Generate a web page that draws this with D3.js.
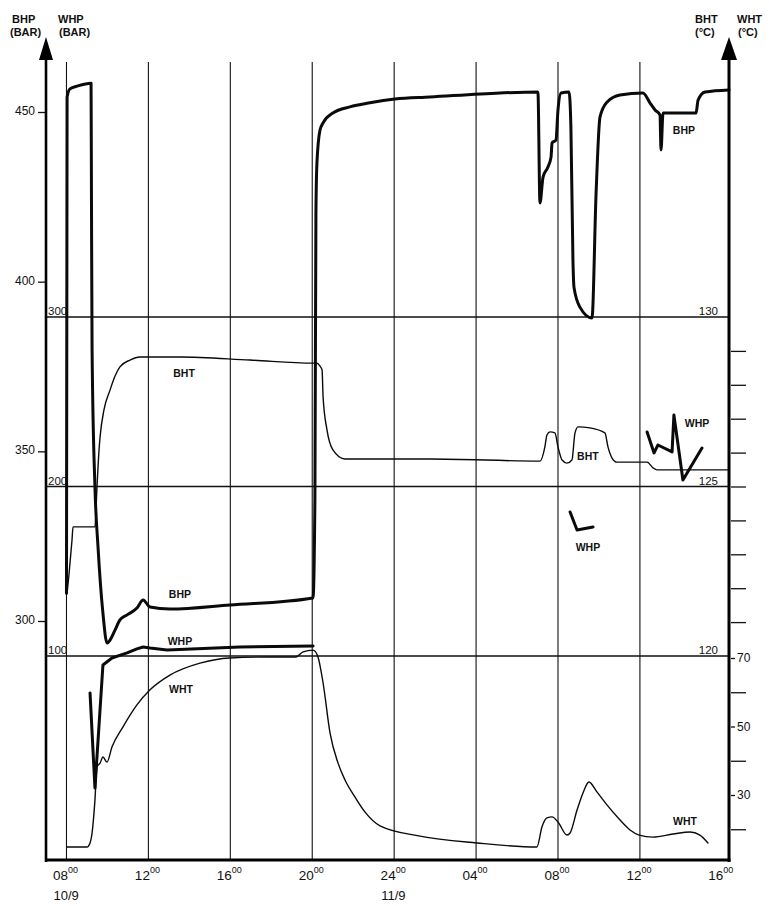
<!DOCTYPE html>
<html>
<head>
<meta charset="utf-8">
<script src="https://cdn.jsdelivr.net/npm/d3@7"></script>
<style>
body { margin: 0; background: #fff; }
svg { display: block; font-family: "Liberation Sans", Arial, sans-serif; }
.grid line { stroke: #111; stroke-width: 1.1; }
.trace { fill: none; stroke: #0a0a0a; stroke-linejoin: round; stroke-linecap: round; }
.thick { stroke-width: 3; }
.thin { stroke-width: 1.4; }
.lbl { font-weight: bold; font-size: 10.5px; fill: #111; }
.ttl { font-weight: bold; font-size: 11px; fill: #111; }
.num { font-size: 11.5px; fill: #111; }
</style>
</head>
<body>
<svg id="chart" width="769" height="906"></svg>
<script>
// time is hours from 00:00 on 10/9
var hourTicks = [8, 12, 16, 20, 24, 28, 32, 36, 40];
var hourLabels = ["08", "12", "16", "20", "24", "04", "08", "12", "16"];
var gridHours = [8, 12, 16, 20, 24, 28, 32, 36];
var dateLabels = [{t: 8, text: "10/9"}, {t: 24, text: "11/9"}];

var bhpTicks = [300, 350, 400, 450];
var whpLines = [100, 200, 300];
var bhtLines = [120, 125, 130];
var bhtTicks = [121, 122, 123, 124, 125, 126, 127, 128, 129];
var whtTicks = [20, 40, 60];
var whtLabelled = [30, 50, 70];

// bottomhole pressure, bar
var bhp = [
    [8.00, 308.2], [8.03, 454.4], [8.17, 456.8], [8.56, 457.7], [9.20, 458.5], [9.22, 424.1],
    [9.25, 379.9], [9.39, 339.5], [9.54, 321.8], [9.78, 302.3], [9.98, 293.5], [10.13, 294.4],
    [10.37, 297.3], [10.61, 300.3], [10.96, 301.8], [11.44, 303.8], [11.74, 306.2], [12.08, 304.1],
    [13.05, 303.5], [15.98, 304.7], [20.04, 306.8], [20.13, 335.6], [20.18, 420.2], [20.23, 435.0],
    [20.38, 444.7], [20.53, 446.8], [21.01, 449.7], [21.84, 451.5], [22.82, 452.7], [24.04, 453.8],
    [25.75, 454.4], [29.17, 455.6], [31.02, 455.9], [31.12, 423.2], [31.27, 430.8], [31.51, 433.8],
    [31.66, 436.7], [31.71, 440.9], [31.90, 441.7], [32.00, 450.6], [32.15, 455.6], [32.54, 455.9],
    [32.63, 445.6], [32.73, 406.4], [32.78, 398.4], [33.07, 392.5], [33.66, 389.3], [33.86, 426.1],
    [34.05, 448.5], [34.39, 452.9], [35.03, 455.0], [36.15, 455.6], [36.49, 452.7], [36.74, 450.6],
    [36.98, 449.1], [37.03, 438.8], [37.13, 449.7], [38.74, 449.7], [38.84, 453.5], [39.18, 455.9],
    [40.35, 456.5]
];

// wellhead pressure, bar (gaps where not recorded)
var whp = [
    [9.15, 78.2], [9.39, 22.1], [9.78, 94.7], [10.22, 98.8], [10.96, 101.8], [11.44, 104.2],
    [11.74, 105.3], [12.08, 104.7], [12.91, 103.5], [16.47, 105.3], [20.04, 105.9],
    null,
    [32.59, 185.0], [32.93, 174.3], [33.71, 176.1],
    null,
    [36.35, 232.2], [36.69, 219.8], [36.88, 224.5], [37.57, 220.4], [37.66, 242.2], [38.10, 203.8],
    [39.03, 222.7]
];

// bottomhole temperature, deg C
var bht = [
    [8.03, 121.86], [8.12, 122.39], [8.27, 123.42], [8.32, 123.81], [9.39, 123.81], [9.49, 124.99],
    [9.59, 126.08], [9.64, 126.46], [9.83, 127.26], [10.13, 127.85], [10.37, 128.26], [10.61, 128.53],
    [11.10, 128.73], [11.59, 128.82], [13.54, 128.82], [16.96, 128.73], [20.04, 128.64], [20.23, 128.64],
    [20.38, 128.55], [20.48, 128.44], [20.53, 127.64], [20.72, 126.67], [21.01, 126.08], [21.60, 125.81],
    [25.75, 125.81], [31.12, 125.75], [31.36, 126.17], [31.46, 126.52], [31.61, 126.61], [31.85, 126.58],
    [32.00, 126.17], [32.20, 125.78], [32.44, 125.69], [32.68, 125.78], [32.83, 126.58], [32.98, 126.76],
    [33.56, 126.73], [34.29, 126.58], [34.44, 126.17], [34.64, 125.84], [34.88, 125.72], [36.35, 125.72],
    [36.64, 125.55], [36.83, 125.49], [40.35, 125.49]
];

// wellhead temperature, deg C
var wht = [
    [8.03, 14.8], [9.00, 14.8], [9.15, 16.0], [9.25, 18.9], [9.39, 28.5], [9.49, 38.2], [9.64, 39.3],
    [9.78, 41.1], [9.98, 39.6], [10.22, 44.0], [10.76, 49.9], [11.44, 56.3], [12.08, 60.7],
    [13.05, 65.0], [14.52, 68.5], [15.98, 70.0], [17.94, 70.3], [19.21, 70.3], [19.55, 71.8],
    [20.04, 72.3], [20.28, 70.3], [20.53, 62.7], [20.87, 48.1], [21.26, 39.3], [21.60, 34.4],
    [22.09, 29.4], [22.58, 25.0], [23.31, 21.0], [25.26, 18.0], [28.04, 16.0], [30.97, 14.8],
    [31.22, 20.7], [31.46, 23.3], [31.71, 23.6], [32.00, 22.1], [32.44, 18.3], [32.59, 18.9],
    [32.93, 25.6], [33.22, 30.6], [33.51, 33.8], [33.90, 30.9], [34.39, 27.1], [35.03, 22.7],
    [35.52, 19.8], [35.96, 18.3], [36.64, 17.7], [37.62, 18.6], [38.45, 19.2], [38.93, 18.3],
    [39.32, 16.0]
];

var seriesLabels = [
    {text: "BHP", t: 38.15, s: "bhp", v: 443.5},
    {text: "BHT", t: 13.74, s: "bht", v: 128.23},
    {text: "BHP", t: 13.54, s: "bhp", v: 306.8},
    {text: "WHP", t: 13.54, s: "whp", v: 106.5},
    {text: "WHT", t: 13.59, s: "wht", v: 59.8},
    {text: "BHT", t: 33.46, s: "bht", v: 125.78},
    {text: "WHP", t: 33.46, s: "whp", v: 161.9},
    {text: "WHP", t: 38.79, s: "whp", v: 235.1},
    {text: "WHT", t: 38.2, s: "wht", v: 21.2}
];

var svg = d3.select("#chart");

var x = d3.scaleLinear().domain([7, 40.35]).range([46, 729]);
var yBhp = d3.scaleLinear().domain([300, 450]).range([621, 112]);
var yWhp = d3.scaleLinear().domain([100, 300]).range([656, 317]);
var yBht = d3.scaleLinear().domain([120, 130]).range([656, 317]);
var yWht = d3.scaleLinear().domain([30, 70]).range([795, 658]);
var scales = {bhp: yBhp, whp: yWhp, bht: yBht, wht: yWht};

var plotTop = 62, plotBottom = 860, axisL = 46, axisR = 729;

svg.append("rect").attr("width", 769).attr("height", 906).attr("fill", "#fff");

// grid
var grid = svg.append("g").attr("class", "grid");
grid.selectAll("line.v")
    .data(gridHours)
    .enter().append("line")
    .attr("class", "v")
    .attr("x1", function(d) { return x(d); })
    .attr("x2", function(d) { return x(d); })
    .attr("y1", plotTop)
    .attr("y2", plotBottom);

grid.selectAll("line.h")
    .data(whpLines)
    .enter().append("line")
    .attr("class", "h")
    .attr("x1", axisL)
    .attr("x2", axisR)
    .attr("y1", function(d) { return yWhp(d); })
    .attr("y2", function(d) { return yWhp(d); })
    .style("stroke-width", 1.3);

// WHP labels on the horizontal lines (left) and BHT labels (right)
svg.selectAll("text.whpl")
    .data(whpLines)
    .enter().append("text")
    .attr("class", "num")
    .attr("x", axisL + 2)
    .attr("y", function(d) { return yWhp(d) - 2; })
    .text(function(d) { return d; });

svg.selectAll("text.bhtl")
    .data(bhtLines)
    .enter().append("text")
    .attr("class", "num")
    .attr("text-anchor", "end")
    .attr("x", axisR - 11)
    .attr("y", function(d) { return yBht(d) - 2; })
    .text(function(d) { return d; });

// traces
function lineFor(ys, curve) {
    return d3.line()
        .defined(function(d) { return d != null; })
        .curve(curve || d3.curveLinear)
        .x(function(d) { return x(d[0]); })
        .y(function(d) { return ys(d[1]); });
}

svg.append("path").attr("class", "trace thin").attr("d", lineFor(yWht, d3.curveMonotoneX)(wht));
svg.append("path").attr("class", "trace thin").attr("d", lineFor(yBht, d3.curveMonotoneX)(bht));
svg.append("path").attr("class", "trace thick").attr("d", lineFor(yWhp)(whp));
svg.append("path").attr("class", "trace thick").attr("d", lineFor(yBhp, d3.curveMonotoneX)(bhp));

svg.selectAll("text.lbl")
    .data(seriesLabels)
    .enter().append("text")
    .attr("class", "lbl")
    .attr("text-anchor", "middle")
    .attr("x", function(d) { return x(d.t); })
    .attr("y", function(d) { return scales[d.s](d.v); })
    .text(function(d) { return d.text; });

// left axis (BHP)
var yAxis = svg.append("g")
    .attr("transform", "translate(" + axisL + ",0)")
    .call(d3.axisLeft(yBhp).tickValues(bhpTicks).tickSize(8).tickPadding(3));
yAxis.select(".domain").remove();
yAxis.selectAll(".tick text").attr("class", "num").style("font-size", "12px").attr("dy", "0.2em");

// right axis ticks (BHT and WHT)
var rAxis = svg.append("g")
    .attr("transform", "translate(" + (axisR + 2) + ",0)")
    .call(d3.axisRight(yBht).tickValues(bhtTicks).tickSize(15).tickFormat(""));
rAxis.select(".domain").remove();

var wAxis = svg.append("g")
    .attr("transform", "translate(" + (axisR + 2) + ",0)")
    .call(d3.axisRight(yWht).tickValues(whtTicks).tickSize(15).tickFormat(""));
wAxis.select(".domain").remove();

var wAxis2 = svg.append("g")
    .attr("transform", "translate(" + (axisR + 2) + ",0)")
    .call(d3.axisRight(yWht).tickValues(whtLabelled).tickSize(4).tickPadding(2));
wAxis2.select(".domain").remove();
wAxis2.selectAll(".tick text").attr("class", "num").style("font-size", "12px");

svg.selectAll(".tick line").attr("stroke", "#111").attr("stroke-width", 1.3);

// bottom axis with superscript minutes
var xAxis = svg.append("g")
    .attr("transform", "translate(0," + plotBottom + ")")
    .call(d3.axisBottom(x).tickValues(hourTicks).tickSize(0)
        .tickFormat(function(d, i) { return hourLabels[i]; }));
xAxis.select(".domain").remove();
xAxis.selectAll(".tick text")
    .attr("text-anchor", "end")
    .attr("x", 1)
    .attr("y", 10)
    .attr("fill", "#111")
    .style("font-size", "13.5px");
xAxis.selectAll(".tick").append("text")
    .attr("x", 1)
    .attr("y", 7)
    .attr("dy", "0.71em")
    .attr("text-anchor", "start")
    .attr("fill", "#111")
    .style("font-size", "9px")
    .text("00");

svg.selectAll("text.date")
    .data(dateLabels)
    .enter().append("text")
    .attr("class", "num")
    .attr("x", function(d) { return x(d.t) - 13; })
    .attr("y", 900)
    .style("font-size", "13px")
    .text(function(d) { return d.text; });

// frame
svg.append("line").attr("x1", axisL).attr("x2", axisL).attr("y1", 56).attr("y2", plotBottom + 2)
    .attr("stroke", "#000").attr("stroke-width", 2.6);
svg.append("line").attr("x1", axisR).attr("x2", axisR).attr("y1", 56).attr("y2", plotBottom + 2)
    .attr("stroke", "#000").attr("stroke-width", 3);
svg.append("line").attr("x1", axisL - 1).attr("x2", axisR + 1.5).attr("y1", plotBottom).attr("y2", plotBottom)
    .attr("stroke", "#000").attr("stroke-width", 3);

svg.append("path").attr("d", "M" + axisL + ",37L" + (axisL - 7) + ",60L" + (axisL + 7) + ",60Z").attr("fill", "#000");
svg.append("path").attr("d", "M" + axisR + ",37L" + (axisR - 8) + ",60L" + (axisR + 8) + ",60Z").attr("fill", "#000");

// axis titles
var titles = [
    {lines: ["BHP", "(BAR)"], x: [12, 10]},
    {lines: ["WHP", "(BAR)"], x: [58, 59]},
    {lines: ["BHT", "(°C)"], x: [695, 695]},
    {lines: ["WHT", "(°C)"], x: [737, 738]}
];
titles.forEach(function(t) {
    t.lines.forEach(function(s, i) {
        svg.append("text")
            .attr("class", "ttl")
            .attr("x", t.x[i])
            .attr("y", 23 + i * 13)
            .text(s);
    });
});
</script>
</body>
</html>
